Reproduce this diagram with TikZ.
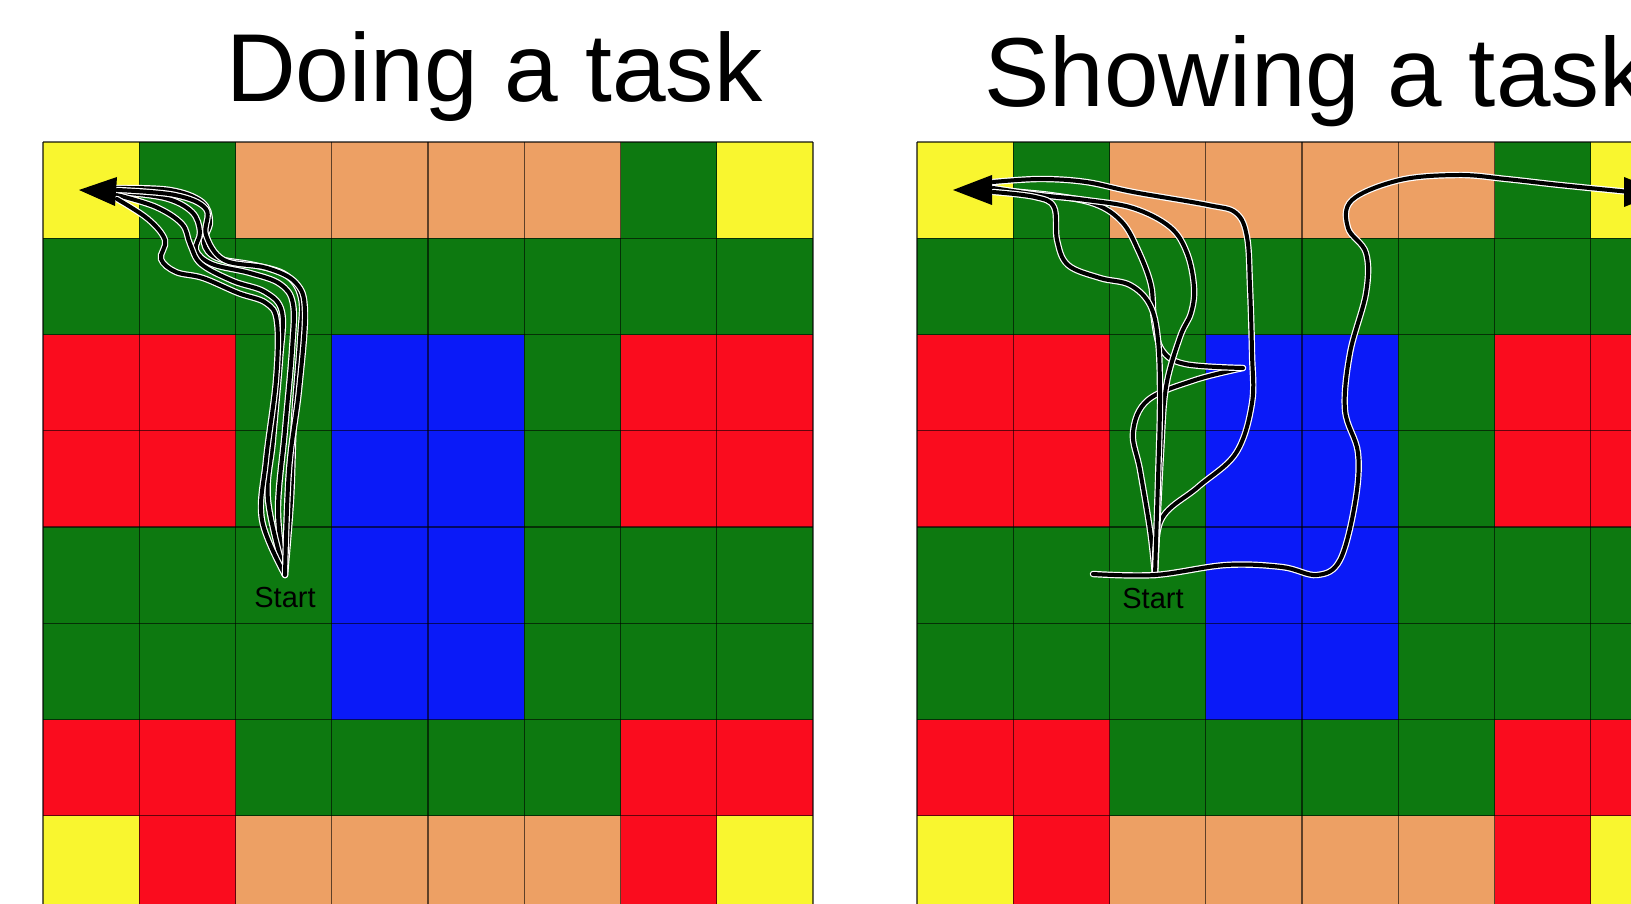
\documentclass[tikz,border=0pt]{standalone}
\usepackage{fontspec}
\setmainfont{Liberation Sans}

\definecolor{sq-y}{RGB}{249,246,47}
\definecolor{sq-g}{RGB}{13,121,16}
\definecolor{sq-o}{RGB}{237,160,100}
\definecolor{sq-r}{RGB}{250,12,30}
\definecolor{sq-b}{RGB}{10,26,248}

\tikzset{
  gridline/.style = {black, opacity=0.6, line width=1.2pt},
  halo/.style = {draw=white, line width=6.4pt, line cap=round},
  trail/.style = {black, line width=4pt, line cap=round,
                  preaction={halo}},
  title/.style = {anchor=base west, inner sep=0pt},
  startlabel/.style = {inner sep=0pt, text=black, font=\fontsize{29}{32}\selectfont},
  head/.style = {fill=black},
}

% one 8x8 board, cell side 96.25
\newcommand{\board}{%
  \foreach \r/\cells in {0/{y,g,o,o,o,o,g,y}, 1/{g,g,g,g,g,g,g,g},
      2/{r,r,g,b,b,g,r,r}, 3/{r,r,g,b,b,g,r,r}, 4/{g,g,g,b,b,g,g,g},
      5/{g,g,g,b,b,g,g,g}, 6/{r,r,g,g,g,g,r,r}, 7/{y,r,o,o,o,o,r,y}}
    \foreach \c [count=\col from 0] in \cells
      \fill[fill=sq-\c] (\col*96.25, \r*96.25) rectangle ++(96.25, 96.25);
  \foreach \i in {0,...,8} {
    \draw[gridline] (\i*96.25, 0) -- (\i*96.25, 770);
    \draw[gridline] (0, \i*96.25) -- (770, \i*96.25);
  }
}

\begin{document}
\begin{tikzpicture}[x=1pt, y=-1pt]
  \useasboundingbox[fill=white] (0,0) rectangle (1631,904);

  \node[title, font=\fontsize{96.5}{100}\selectfont] (doing) at (226,102) {Doing a task};
  \node[title, font=\fontsize{98}{100}\selectfont] (showing) at (984,107) {Showing a task};

  \begin{scope}[shift={(43,142)}] \board \end{scope}
  \begin{scope}[shift={(917,142)}] \board \end{scope}

  % left board: five nearly equal runs
  \coordinate (start-l) at (285,575);
  \draw[trail] plot[smooth, tension=0.6] coordinates {(117,188) (170,190) (202,202) (210,222) (204,243) (217,258) (254,265) (286,275) (301,298) (300,340) (294,420) (291,500) (start-l)};
  \draw[trail] plot[smooth, tension=0.6] coordinates {(117,192) (165,198) (192,212) (200,232) (196,250) (212,264) (250,273) (280,284) (293,304) (292,350) (285,430) (278,510) (start-l)};
  \draw[trail] plot[smooth, tension=0.6] coordinates {(117,195) (156,207) (182,224) (190,244) (201,264) (233,281) (265,292) (282,312) (280,360) (273,440) (268,500) (start-l)};
  \draw[trail] plot[smooth, tension=0.6] coordinates {(117,199) (148,219) (165,240) (161,259) (176,272) (203,278) (238,293) (266,303) (277,322) (276,380) (266,460) (262,520) (start-l)};
  \draw[trail] plot[smooth, tension=0.6] coordinates {(117,190) (175,195) (206,209) (206,235) (224,260) (267,268) (296,283) (305,312) (299,390) (289,470) (start-l)};
  \fill[head] (79,190) -- (117,177) -- (115,206) -- cycle;
  \node[startlabel] (label-l) at (285,598) {Start};

  % right board: the runs wander
  \coordinate (start-r) at (1155,575);
  \draw[trail] plot[smooth, tension=0.6] coordinates {(start-r) (1150,530) (1140,470) (1133,432) (1148,400) (1195,380) (1243,368)};
  \draw[trail] plot[smooth, tension=0.6] coordinates {(1243,368) (1185,364) (1162,350) (1154,320) (1151,285) (1138,250) (1122,222) (1095,204) (1050,195) (993,190)};
  \draw[trail] plot[smooth, tension=0.6] coordinates {(start-r) (1161,520) (1198,487) (1236,453) (1252,403) (1252,353) (1250,287) (1247,237) (1236,213) (1208,205) (1133,192) (1086,182) (1040,179) (993,182)};
  \draw[trail] plot[smooth, tension=0.6] coordinates {(start-r) (1161,453) (1166,387) (1180,337) (1191,313) (1194,287) (1187,253) (1170,227) (1133,208) (1086,200) (1040,195) (993,188)};
  \draw[trail] plot[smooth, tension=0.6] coordinates {(start-r) (1158,480) (1160,400) (1158,340) (1150,305) (1130,285) (1100,278) (1068,265) (1057,240) (1054,207) (1035,197) (993,192)};
  \draw[trail] plot[smooth, tension=0.6] coordinates {(1093,574) (start-r) (1226,565) (1282,567) (1317,575) (1340,560) (1355,503) (1358,453) (1345,410) (1350,353) (1366,293) (1366,253) (1348,228) (1352,200) (1400,180) (1459,175) (1506,179) (1560,185) (1630,192)};
  \fill[head] (953,190) -- (992,175) -- (992,205) -- cycle;
  \fill[head] (1662,192) -- (1624,177) -- (1624,207) -- cycle;
  \node[startlabel] (label-r) at (1153,599) {Start};
\end{tikzpicture}
\end{document}
